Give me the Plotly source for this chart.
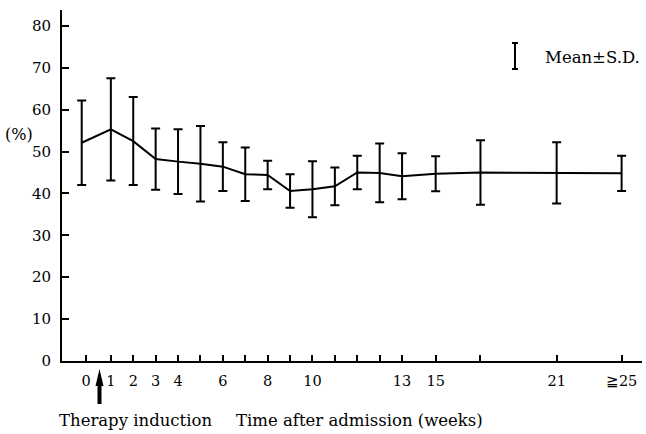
import plotly.graph_objects as go

# Horizontal slot of each measurement (weeks after admission, drawn positions)
slot = [-0.3, 1, 2, 3, 4, 5, 6, 7, 8, 9, 10, 11, 12, 13, 14, 15.5, 17.5, 20.9, 23.8]
# Mean value (%) and standard deviation at each slot
mean = [52.1, 55.3, 52.5, 48.2, 47.6, 47.1, 46.4, 44.6, 44.4, 40.6, 41.0, 41.7,
        45.0, 44.9, 44.1, 44.7, 45.0, 44.9, 44.8]
sd = [10.1, 12.2, 10.5, 7.3, 7.7, 9.0, 5.8, 6.4, 3.4, 4.0, 6.7, 4.5,
      4.0, 7.0, 5.5, 4.2, 7.7, 7.3, 4.2]

# Axis ticks
x_tick_pos = [-0.1, 1, 2, 3, 4, 5, 6, 7, 8, 9, 10, 11, 12, 13, 14, 15.5, 17.5, 20.9, 23.8]
x_tick_text = ["0", "1", "2", "3", "4", "", "6", "", "8", "", "10", "", "", "",
               "13", "15", "", "21", "≧25"]
y_tick_vals = [0, 10, 20, 30, 40, 50, 60, 70, 80]

SERIF = "DejaVu Serif"
W, H = 646, 434
ML, MR, MT, MB = 62, 4, 10, 73
PW, PH = W - ML - MR, H - MT - MB


def px(x):
    return (x - ML) / PW


def py(y):
    return (H - MB - y) / PH


fig = go.Figure()
fig.add_trace(go.Scatter(
    x=slot, y=mean, mode="lines",
    line=dict(color="black", width=2),
    error_y=dict(type="data", array=sd, visible=True, color="black",
                 thickness=2, width=4.5),
    showlegend=False, hoverinfo="skip",
))

shapes = []
# Mean ± S.D. key glyph
gx, gt, gb = 515, 43, 69
shapes.append(dict(type="line", xref="paper", yref="paper",
                   x0=px(gx), x1=px(gx), y0=py(gt), y1=py(gb),
                   line=dict(color="black", width=2)))
for gy in (gt, gb):
    shapes.append(dict(type="line", xref="paper", yref="paper",
                       x0=px(gx - 3), x1=px(gx + 3), y0=py(gy), y1=py(gy),
                       line=dict(color="black", width=2)))

# Therapy-induction arrow below the time axis
ax = 99.5
shapes.append(dict(type="rect", xref="paper", yref="paper",
                   x0=px(ax - 2), x1=px(ax + 2), y0=py(404), y1=py(383),
                   fillcolor="black", line=dict(width=0)))
shapes.append(dict(type="path", xref="paper", yref="paper",
                   path=f"M {px(ax)} {py(369)} L {px(ax - 4)} {py(386)} "
                        f"L {px(ax + 4)} {py(386)} Z",
                   fillcolor="black", line=dict(width=0)))

annotations = [
    dict(text="Mean±S.D.", x=px(543), y=py(57), xanchor="left", yanchor="middle"),
    dict(text="(%)", x=px(19), y=py(134), xanchor="center", yanchor="middle"),
    dict(text="Therapy induction", x=px(135), y=py(420), xanchor="center", yanchor="middle"),
    dict(text="Time after admission (weeks)", x=px(359), y=py(420),
         xanchor="center", yanchor="middle"),
]
for a in annotations:
    a.update(xref="paper", yref="paper", showarrow=False,
             font=dict(family=SERIF, size=16.5, color="black"))
annotations[1]["font"]["size"] = 16

fig.update_layout(
    width=W, height=H,
    margin=dict(l=ML, r=MR, t=MT, b=MB, pad=0),
    plot_bgcolor="white", paper_bgcolor="white",
    shapes=shapes, annotations=annotations,
    xaxis=dict(range=[-1.18, 24.71], showgrid=False, zeroline=False,
               showline=True, linecolor="black", linewidth=2,
               ticks="inside", ticklen=6, tickwidth=1.5, tickcolor="black",
               tickvals=x_tick_pos, ticktext=x_tick_text,
               ticklabelstandoff=6,
               tickfont=dict(family=SERIF, size=14.5, color="black")),
    yaxis=dict(range=[0, 83.8], showgrid=False, zeroline=False,
               showline=True, linecolor="black", linewidth=2,
               ticks="inside", ticklen=7, tickwidth=1.5, tickcolor="black",
               tickvals=y_tick_vals,
               ticklabelstandoff=6,
               tickfont=dict(family=SERIF, size=15, color="black")),
)

fig.write_html("out.html")
